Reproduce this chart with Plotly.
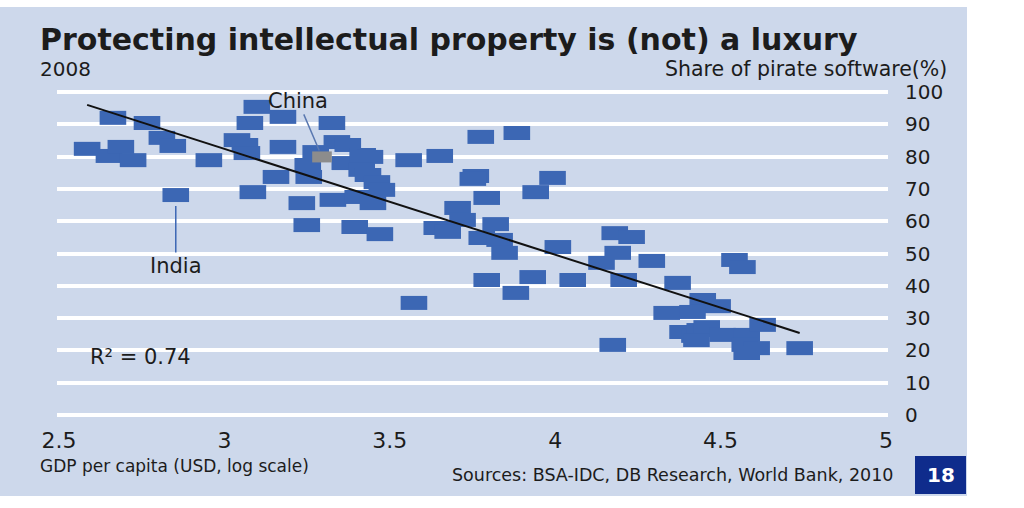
import plotly.graph_objects as go

# GDP per capita (log10 USD) and share of pirate software (%), 2008
gdp_log = [2.585, 2.663, 2.651, 2.687, 2.724, 2.766, 2.811, 2.844, 2.853, 2.953,
           3.038, 3.062, 3.068, 3.077, 3.098, 3.086, 3.177, 3.177, 3.156, 3.234,
           3.249, 3.276, 3.252, 3.255, 3.325, 3.328, 3.340, 3.373, 3.364, 3.418,
           3.440, 3.415, 3.434, 3.461, 3.476, 3.403, 3.449, 3.394, 3.470, 3.557,
           3.573, 3.651, 3.775, 3.884, 3.760, 3.751, 3.992, 3.941, 3.793, 3.705,
           3.720, 3.642, 3.675, 3.820, 3.778, 3.832, 3.847, 4.008, 3.793, 3.932,
           4.053, 3.881, 4.140, 4.180, 4.231, 4.189, 4.292, 4.207, 4.174, 4.542,
           4.566, 4.370, 4.337, 4.446, 4.491, 4.415, 4.385, 4.421, 4.437, 4.458,
           4.506, 4.427, 4.579, 4.627, 4.573, 4.609, 4.579, 4.739]
pirate_share = [82.4, 92.0, 80.2, 83.0, 78.9, 90.4, 85.8, 83.3, 68.1, 78.9,
                85.1, 83.6, 81.1, 90.4, 95.4, 69.0, 92.3, 83.0, 73.7, 65.6,
                58.8, 81.4, 77.4, 73.7, 90.4, 66.6, 84.5, 83.6, 78.0, 80.5,
                79.9, 75.9, 74.3, 72.1, 69.7, 67.5, 65.6, 58.2, 56.0, 78.9,
                34.7, 80.2, 86.1, 87.3, 74.0, 73.1, 73.4, 69.0, 67.2, 64.1,
                60.4, 57.9, 56.7, 59.1, 54.8, 54.2, 50.2, 52.0, 41.8, 42.7,
                41.8, 37.8, 47.1, 56.3, 55.1, 50.2, 47.7, 41.8, 21.7, 48.0,
                45.8, 40.9, 31.6, 35.6, 33.7, 31.9, 25.7, 24.5, 26.3, 27.2,
                24.8, 23.2, 24.8, 27.9, 21.7, 20.7, 19.2, 20.7]
india_index = 8
china_x = [3.295]
china_y = [79.9]

# Linear trend endpoints
trend_x = [2.585, 4.739]
trend_y = [96.0, 25.4]
r_squared = 0.74

x_ticks = [2.5, 3, 3.5, 4, 4.5, 5]
x_ticktext = ["2.5", "3", "3.5", "4", "4.5", "5"]
y_ticks = [0, 10, 20, 30, 40, 50, 60, 70, 80, 90, 100]

BLUE = "#3c67b4"
PANEL = "#cdd8eb"
DARK = "#1c1c1c"
FONT = "DejaVu Sans"

fig = go.Figure()
fig.add_trace(go.Scatter(
    x=gdp_log, y=pirate_share, mode="markers",
    marker=dict(symbol="line-ew", size=19, line=dict(width=14, color=BLUE)),
    showlegend=False, hoverinfo="x+y"))
fig.add_trace(go.Scatter(
    x=trend_x, y=trend_y, mode="lines",
    line=dict(color="#111111", width=2), showlegend=False, hoverinfo="skip"))
fig.add_trace(go.Scatter(
    x=china_x, y=china_y, mode="markers",
    marker=dict(symbol="line-ew", size=14, line=dict(width=11, color="#8c8c8c")),
    showlegend=False, hoverinfo="x+y"))

L, R, T, B = 57, 888, 85, 425
W, H = R - L, B - T

def px(x):
    return (x - L) / W

def py(y):
    return (B - y) / H

shapes = [
    dict(type="rect", xref="paper", yref="paper", layer="below",
         x0=px(0), x1=px(967), y0=py(496), y1=py(7),
         fillcolor=PANEL, line=dict(width=0)),
    dict(type="rect", xref="paper", yref="paper",
         x0=px(915), x1=px(966), y0=py(494), y1=py(456),
         fillcolor="#0f2c8c", line=dict(width=0)),
]

annotations = [
    dict(text="<b>Protecting intellectual property is (not) a luxury</b>",
         xref="paper", yref="paper", x=px(39), y=py(39), xanchor="left", yanchor="middle",
         showarrow=False, borderpad=0, font=dict(family=FONT, size=30, color=DARK)),
    dict(text="2008", xref="paper", yref="paper", x=px(39), y=py(69),
         xanchor="left", yanchor="middle", showarrow=False, borderpad=0,
         font=dict(family=FONT, size=20, color=DARK)),
    dict(text="Share of pirate software(%)", xref="paper", yref="paper", x=px(948), y=py(69),
         xanchor="right", yanchor="middle", showarrow=False, borderpad=0,
         font=dict(family=FONT, size=20.5, color=DARK)),
    dict(text="GDP per capita (USD, log scale)", xref="paper", yref="paper", x=px(38), y=py(466),
         xanchor="left", yanchor="middle", showarrow=False,
         font=dict(family=FONT, size=17, color=DARK)),
    dict(text="Sources: BSA-IDC, DB Research, World Bank, 2010", xref="paper", yref="paper",
         x=px(895), y=py(475), xanchor="right", yanchor="middle", showarrow=False,
         font=dict(family=FONT, size=17.5, color=DARK)),
    dict(text="<b>18</b>", xref="paper", yref="paper", x=px(941), y=py(475),
         xanchor="center", yanchor="middle", showarrow=False,
         font=dict(family=FONT, size=20, color="white")),
    dict(text=f"R² = {r_squared:.2f}", x=2.588, y=18, xref="x", yref="y",
         xanchor="left", yanchor="middle", showarrow=False,
         font=dict(family=FONT, size=21, color=DARK)),
    dict(text="China", x=china_x[0], y=china_y[0], xref="x", yref="y",
         ax=-24, ay=-56, showarrow=True, arrowhead=0, arrowwidth=1.5,
         arrowcolor="#5a78b0", standoff=7,
         font=dict(family=FONT, size=21, color=DARK)),
    dict(text="India", x=gdp_log[india_index], y=pirate_share[india_index], xref="x", yref="y",
         ax=0, ay=71, showarrow=True, arrowhead=0, arrowwidth=1.5,
         arrowcolor=BLUE, standoff=11,
         font=dict(family=FONT, size=21, color=DARK)),
]

fig.update_layout(
    width=1024, height=508,
    margin=dict(l=L, r=1024 - R, t=T, b=508 - B),
    paper_bgcolor="white", plot_bgcolor="rgba(0,0,0,0)",
    shapes=shapes, annotations=annotations, showlegend=False,
    xaxis=dict(range=[2.5 - 2 / 331, 5 + 2 / 331], tickvals=x_ticks, ticktext=x_ticktext,
               showgrid=False, zeroline=False, showline=False, ticks="",
               ticklabelstandoff=0,
               tickfont=dict(family=FONT, size=22, color=DARK)),
    yaxis=dict(range=[-10 / 3.23, 100 + 7 / 3.23], tickvals=y_ticks, side="right",
               showgrid=True, gridcolor="white", gridwidth=3.5,
               zeroline=False, showline=False, ticks="", ticklabelstandoff=16,
               tickfont=dict(family=FONT, size=20, color=DARK)),
)

fig.write_html("out.html", config={"displayModeBar": False},
               post_script="document.body.style.margin='0';document.body.style.overflow='hidden';")
